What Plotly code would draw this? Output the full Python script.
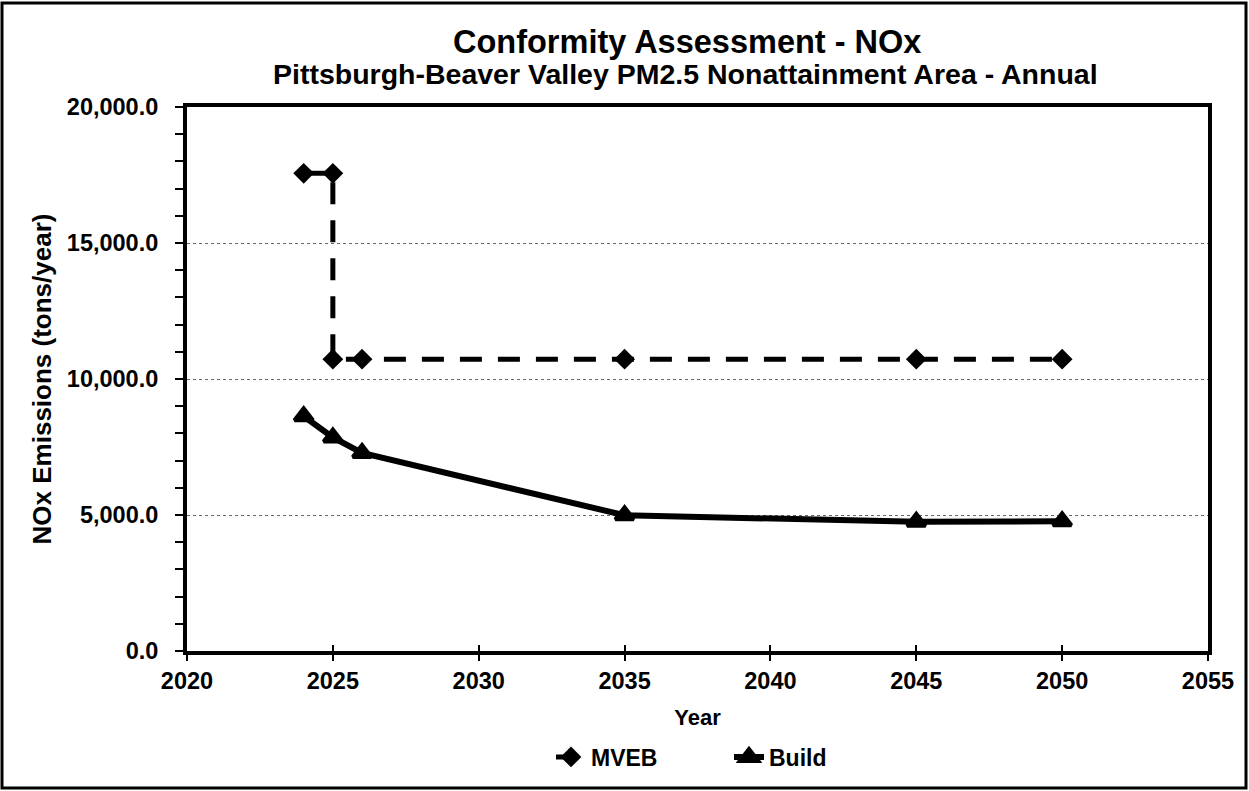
import plotly.graph_objects as go

years_mveb = [2024, 2025, 2025, 2026, 2035, 2045, 2050]
mveb = [17560, 17560, 10730, 10730, 10730, 10730, 10730]
years_build = [2024, 2025, 2026, 2035, 2045, 2050]
build = [8630, 7850, 7280, 4990, 4750, 4770]

title = "Conformity Assessment - NOx"
subtitle = "Pittsburgh-Beaver Valley PM2.5 Nonattainment Area - Annual"

W, H = 1249, 791
L, R, T, B = 187, 41, 107, 140
pw, ph = W - L - R, H - T - B

def px_x(p):
    return (p - L) / pw

def px_y(p):
    return (H - B - p) / ph

font = "Liberation Sans, Arial, sans-serif"

fig = go.Figure()
fig.add_trace(go.Scatter(
    x=years_mveb, y=mveb, name="MVEB", mode="lines+markers",
    line=dict(color="black", width=5, dash="22px,16px"),
    marker=dict(symbol="diamond", size=16, color="black"),
))
fig.add_trace(go.Scatter(
    x=years_build, y=build, name="Build", mode="lines+markers",
    line=dict(color="black", width=6),
    marker=dict(symbol="triangle-up", size=16, color="black", line=dict(color="black", width=4)),
))
# helper trace on overlaid axis to draw the upper half of the crossing x ticks
fig.add_trace(go.Scatter(x=[2020, 2055], y=[0, 0], xaxis="x2", mode="lines",
                         line=dict(width=0), showlegend=False, hoverinfo="skip"))

fig.update_layout(
    width=W, height=H,
    margin=dict(l=L, r=R, t=T, b=B),
    paper_bgcolor="white", plot_bgcolor="white",
    font=dict(family=font, color="black", size=22),
    showlegend=True,
    legend=dict(orientation="h", x=px_x(551), y=px_y(757), xanchor="left", yanchor="middle",
                font=dict(size=23, family=font, color="black", weight="bold"),
                entrywidth=133, entrywidthmode="pixels", bgcolor="rgba(0,0,0,0)"),
    xaxis=dict(range=[2020, 2055], dtick=5, tick0=2020, showgrid=False, zeroline=False,
               showline=True, linecolor="black", linewidth=4, mirror=True,
               ticks="outside", ticklen=6, tickwidth=2, tickcolor="black",
               tickfont=dict(size=23.5, weight="bold"),
               title=dict(text="<b>Year</b>", font=dict(size=22), standoff=17)),
    xaxis2=dict(range=[2020, 2055], dtick=5, tick0=2020, overlaying="x", side="bottom",
                showgrid=False, zeroline=False, showline=False, showticklabels=False,
                ticks="inside", ticklen=6, tickwidth=2, tickcolor="black"),
    yaxis=dict(range=[0, 20000], dtick=5000, showgrid=True, gridcolor="#666666", griddash="dot",
               gridwidth=1, zeroline=False, showline=True, linecolor="black", linewidth=4, mirror=True,
               ticks="outside", ticklen=8, tickwidth=2, tickcolor="black",
               tickformat=",.1f", tickfont=dict(size=23.5, weight="bold"),
               ticklabelstandoff=12,
               minor=dict(dtick=1000, ticks="outside", ticklen=8, tickwidth=2, tickcolor="black",
                          showgrid=False),
               title=dict(text="<b>NOx Emissions (tons/year)</b>", font=dict(size=26), standoff=9)),
    annotations=[
        dict(text="<b>" + title + "</b>", x=px_x(687), y=px_y(42), xref="paper", yref="paper",
             showarrow=False, font=dict(size=32.5, family=font, color="black"), xanchor="center", yanchor="middle"),
        dict(text="<b>" + subtitle + "</b>", x=px_x(685), y=px_y(74), xref="paper", yref="paper",
             showarrow=False, font=dict(size=28.5, family=font, color="black"), xanchor="center", yanchor="middle"),
    ],
    shapes=[
        dict(type="rect", xref="paper", yref="paper",
             x0=px_x(2), x1=px_x(1246), y0=px_y(788), y1=px_y(3),
             line=dict(color="black", width=3), fillcolor="rgba(0,0,0,0)", layer="below"),
    ],
)

fig.write_html("out.html", config={"displayModeBar": False},
               post_script="document.body.style.margin='0';document.body.style.overflow='hidden';")
